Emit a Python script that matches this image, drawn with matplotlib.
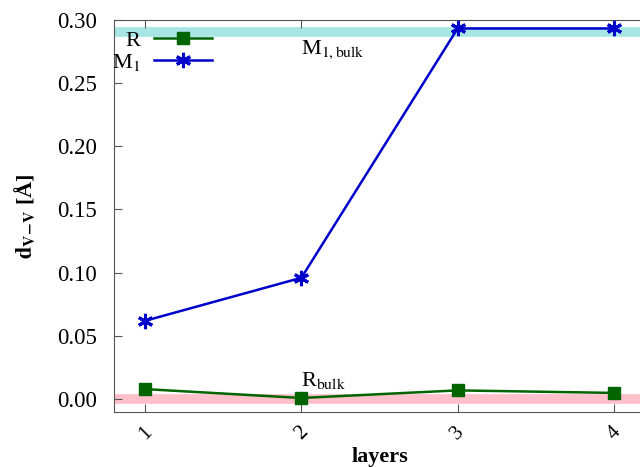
import matplotlib
matplotlib.use("Agg")
import matplotlib.pyplot as plt

plt.rcParams['font.family'] = ['Liberation Serif', 'DejaVu Serif']
plt.rcParams['mathtext.fontset'] = 'stix'

layers = [1, 2, 3, 4]
tick_labels = ['1', '2', '3', '4']
d_R = [0.008, 0.001, 0.007, 0.005]
d_M1 = [0.062, 0.096, 0.293, 0.293]
R_bulk = 0.0
M1_bulk = 0.29

fig = plt.figure(figsize=(6.4, 4.67), dpi=100)
ax = fig.add_axes([0.178, 0.118, 0.83, 0.84])

# bulk reference levels
ax.axhline(M1_bulk, color='#a8e6e6', lw=7, zorder=1)
ax.axhline(R_bulk, color='#ffc0cb', lw=7, zorder=1)

ax.plot(layers, d_R, color='#006400', lw=1.8, marker='s', ms=9, label='R', zorder=3)
ax.plot(layers, d_M1, color='#0000cc', lw=1.8, marker=(6, 2, 0), ms=11,
        mew=2.2, label='M$_1$', zorder=3)

ax.text(2.0, 0.276, r'M$_{1,\mathrm{bulk}}$', fontsize=16, va='center')
ax.text(2.0, 0.015, r'R$_{\mathrm{bulk}}$', fontsize=16, va='center')

ax.set_xlim(0.8, 4.2)
ax.set_ylim(-0.01, 0.30)
ax.set_xticks(layers)
ax.set_xticklabels(tick_labels, rotation=45, fontsize=15)
ax.set_yticks([0.0, 0.05, 0.10, 0.15, 0.20, 0.25, 0.30])
ax.set_yticklabels(['0.00', '0.05', '0.10', '0.15', '0.20', '0.25', '0.30'], fontsize=16.5)
ax.tick_params(direction='in', length=6, color='#555555', top=True, right=False)
ax.tick_params(axis='y', pad=12)
ax.tick_params(axis='x', pad=8)
for s in ax.spines.values():
    s.set_color('#555555')
ax.spines['right'].set_visible(False)

ax.set_xlabel('layers', fontsize=16, fontweight='bold', labelpad=2)
ax.set_ylabel(r'$\mathbf{d_{V\!-\!V}}$ [Å]', fontsize=16, fontweight='bold', labelpad=14)

leg = ax.legend(loc='upper left', bbox_to_anchor=(-0.02, 0.995), frameon=False,
                fontsize=16, markerfirst=False, handlelength=2.6,
                handletextpad=0.6, borderaxespad=0, labelspacing=0.05)
for t in leg.get_texts():
    t.set_ha('right')

fig.savefig('out.png', dpi=100)
